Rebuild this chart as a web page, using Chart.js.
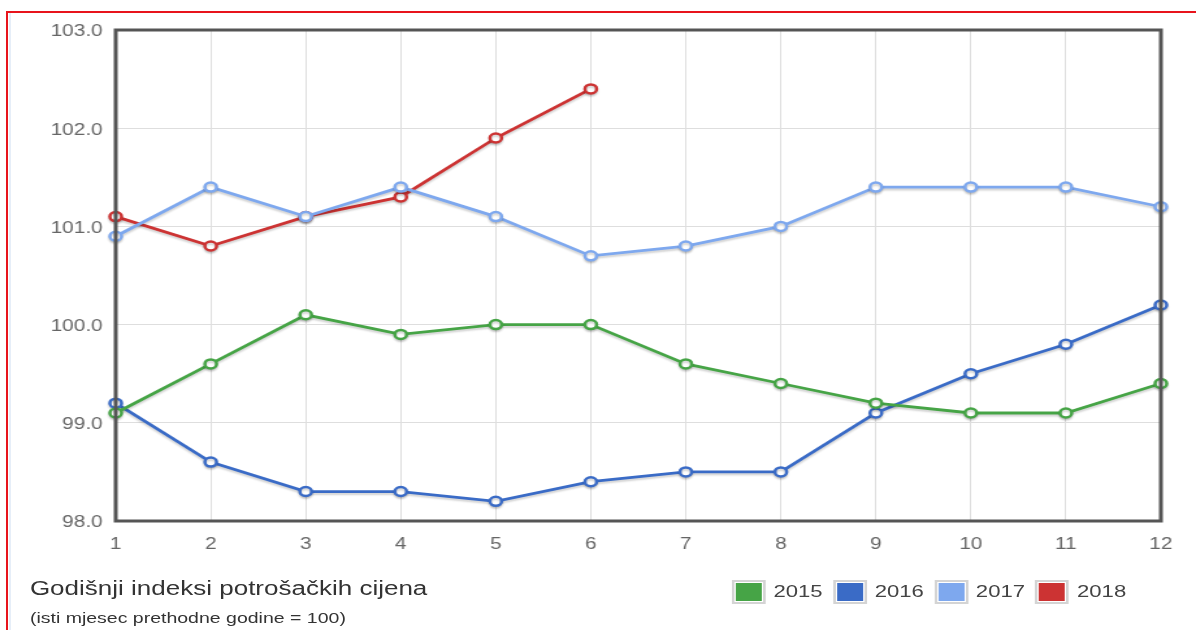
<!DOCTYPE html>
<html>
<head>
<meta charset="utf-8">
<script src="https://cdn.jsdelivr.net/npm/chart.js@4/dist/chart.umd.min.js"></script>
<style>
  body { margin: 0; background: #fff; font-family: Arial, "Liberation Sans", sans-serif; overflow: hidden; }
  #frame { position: absolute; left: 6px; top: 11px; width: 1200px; height: 640px;
           border-top: 2px solid #e8141c; border-left: 2px solid #e8141c; box-sizing: border-box; }
  #frame::after { content: ""; position: absolute; left: 1px; top: 0; width: 2px; height: 100%; background: #e6eef8; }
  /* the reference is stretched sideways, so the page is drawn narrow and scaled */
  #page { position: absolute; left: 0; top: 0; width: 920px; height: 630px; transform: scaleX(1.3); transform-origin: 0 0; }
  #wrap { position: absolute; left: 0; top: 0; width: 920px; height: 560px; }
  #title { position: absolute; left: 23px; top: 577px; font-size: 20px; color: #333; white-space: nowrap; }
  #subtitle { position: absolute; left: 23px; top: 609px; font-size: 15px; color: #333; white-space: nowrap; }
  #legend { position: absolute; left: 563px; top: 580px; display: flex; font-size: 17px; color: #444; }
  .item { display: flex; align-items: center; margin-right: 8px; }
  .box { width: 20px; height: 18px; border: 2px solid #d4d4d4; padding: 1px; margin-right: 6px; }
  .box span { display: block; width: 100%; height: 100%; }
</style>
</head>
<body>
<div id="frame"></div>
<div id="page">
  <div id="wrap"><canvas id="myChart"></canvas></div>
  <div id="title">Godišnji indeksi potrošačkih cijena</div>
  <div id="subtitle">(isti mjesec prethodne godine = 100)</div>
  <div id="legend"></div>
</div>
<script>
const months = ["1", "2", "3", "4", "5", "6", "7", "8", "9", "10", "11", "12"];
const years = ["2015", "2016", "2017", "2018"];
const colors = ["#46a446", "#3a6bc6", "#7ea8ee", "#cc3333"];

const values2015 = [99.1, 99.6, 100.1, 99.9, 100.0, 100.0, 99.6, 99.4, 99.2, 99.1, 99.1, 99.4];
const values2016 = [99.2, 98.6, 98.3, 98.3, 98.2, 98.4, 98.5, 98.5, 99.1, 99.5, 99.8, 100.2];
const values2017 = [100.9, 101.4, 101.1, 101.4, 101.1, 100.7, 100.8, 101.0, 101.4, 101.4, 101.4, 101.2];
const values2018 = [101.1, 100.8, 101.1, 101.3, 101.9, 102.4];

const series = [values2015, values2016, values2017, values2018];

const legend = document.getElementById("legend");
years.forEach((y, i) => {
  legend.innerHTML += `<div class="item"><div class="box"><span style="background:${colors[i]}"></span></div>${y}</div>`;
});

// border round the plot area + soft shadow under the lines
const framePlugin = {
  id: "frame",
  beforeDatasetsDraw(chart) {
    const ctx = chart.ctx;
    ctx.save();
    ctx.shadowColor = "rgba(0,0,0,0.18)";
    ctx.shadowOffsetY = 2;
    ctx.shadowBlur = 2;
  },
  afterDatasetsDraw(chart) {
    chart.ctx.restore();
  },
  afterDraw(chart) {
    const a = chart.chartArea;
    const ctx = chart.ctx;
    ctx.save();
    ctx.strokeStyle = "#555";
    ctx.lineWidth = 3;
    ctx.strokeRect(a.left, a.top, a.right - a.left, a.bottom - a.top);
    ctx.restore();
  }
};

const tickFont = { size: 16, family: "Arial, 'Liberation Sans'" };

const data = {
  labels: months,
  datasets: years.map((y, i) => ({
    label: y,
    data: series[i],
    borderColor: colors[i],
    backgroundColor: "#fff",
    borderWidth: 2.8,
    pointRadius: 4.5,
    pointBorderWidth: 2.5,
    pointBackgroundColor: "#fff",
    pointBorderColor: colors[i],
    tension: 0,
  })),
};

const config = {
  type: "line",
  data,
  options: {
    responsive: false,
    animation: false,
    layout: { padding: { top: 30, right: 27, left: 0, bottom: 0 } },
    plugins: { legend: { display: false }, tooltip: { enabled: false } },
    scales: {
      x: {
        offset: false,
        grid: { color: "#dedede", lineWidth: 1, drawTicks: false },
        border: { display: false },
        ticks: { color: "#666", font: tickFont, padding: 14, maxRotation: 0 },
        afterFit(scale) { scale.height = 39; },
      },
      y: {
        min: 98,
        max: 103,
        grid: { color: "#dedede", lineWidth: 1, drawTicks: false },
        border: { display: false },
        ticks: {
          stepSize: 1,
          color: "#666",
          padding: 10,
          labelOffset: 2,
          font: tickFont,
          callback: (v) => v.toFixed(1),
        },
        afterFit(scale) { scale.width = 89; },
      },
    },
  },
  plugins: [framePlugin],
};

const ctx = document.getElementById("myChart");
ctx.width = 920;
ctx.height = 560;
let myChart = new Chart(ctx, config);
</script>
</body>
</html>
